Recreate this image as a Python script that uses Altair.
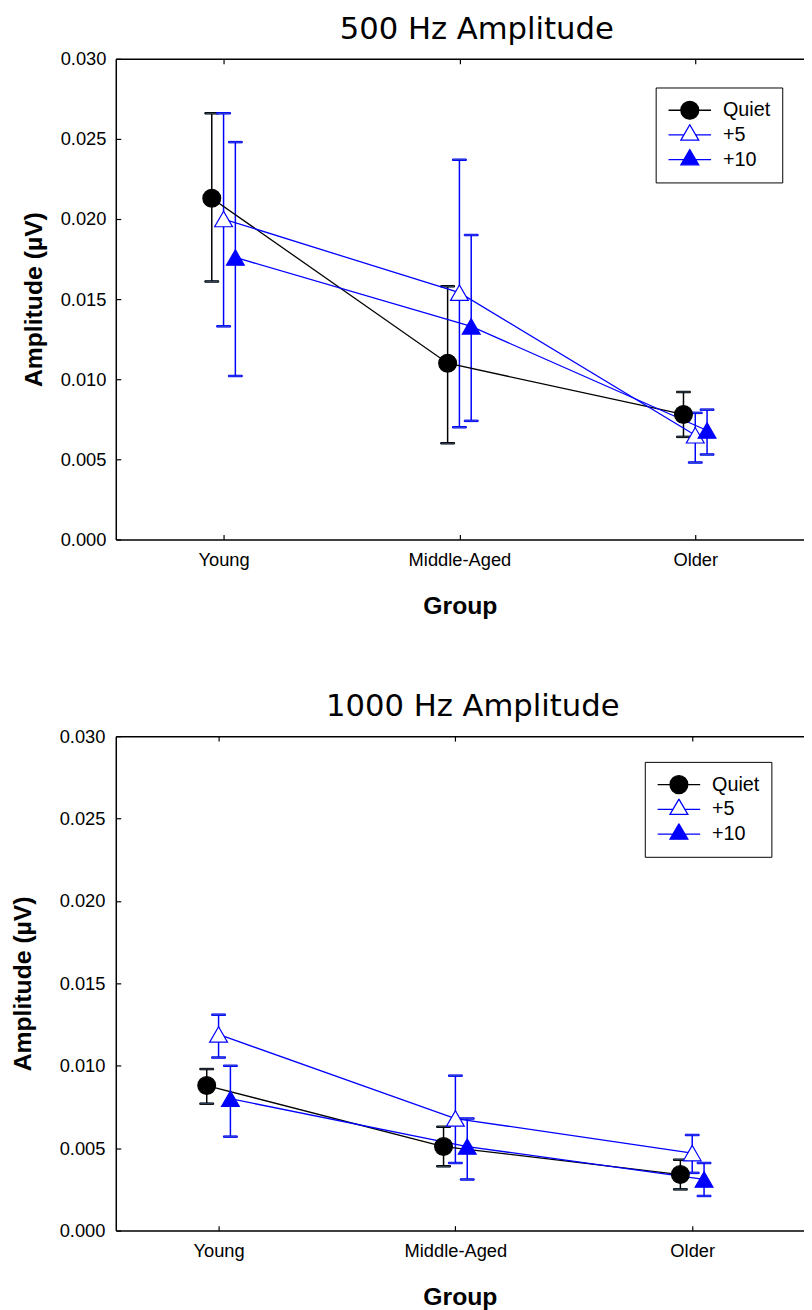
import json
import altair as alt
import pandas as pd

groups = ["Young", "Middle-Aged", "Older"]
series = ["Quiet", "+5", "+10"]
y_ticks = [0.0, 0.005, 0.010, 0.015, 0.020, 0.025, 0.030]

# 500 Hz amplitude (mean, upper and lower error-bar ends)
hz500_quiet = [0.0213, 0.0110, 0.0078]
hz500_quiet_hi = [0.0266, 0.0158, 0.0092]
hz500_quiet_lo = [0.0161, 0.0060, 0.0064]
hz500_p5 = [0.0200, 0.0154, 0.0065]
hz500_p5_hi = [0.0266, 0.0237, 0.0079]
hz500_p5_lo = [0.0133, 0.0070, 0.0048]
hz500_p10 = [0.0176, 0.0133, 0.0068]
hz500_p10_hi = [0.0248, 0.0190, 0.0081]
hz500_p10_lo = [0.0102, 0.0074, 0.0053]

# 1000 Hz amplitude
hz1000_quiet = [0.0088, 0.0051, 0.0034]
hz1000_quiet_hi = [0.0098, 0.0063, 0.0043]
hz1000_quiet_lo = [0.0077, 0.0039, 0.0025]
hz1000_p5 = [0.0119, 0.0068, 0.0047]
hz1000_p5_hi = [0.0131, 0.0094, 0.0058]
hz1000_p5_lo = [0.0105, 0.0041, 0.0035]
hz1000_p10 = [0.0080, 0.0051, 0.0031]
hz1000_p10_hi = [0.0100, 0.0068, 0.0041]
hz1000_p10_lo = [0.0057, 0.0031, 0.0021]

DODGE = {"Quiet": -0.05, "+5": 0.0, "+10": 0.05}
FONT = "Liberation Sans"
TITLE_FONT = "DejaVu Sans"


def make_df(means, his, los):
    rows = []
    for s, m, h, l in zip(series, means, his, los):
        for gi, g in enumerate(groups):
            rows.append({"group": g, "series": s, "pos": gi + 1 + DODGE[s],
                         "mean": m[gi], "hi": h[gi], "lo": l[gi]})
    return pd.DataFrame(rows)


df500 = make_df([hz500_quiet, hz500_p5, hz500_p10],
                [hz500_quiet_hi, hz500_p5_hi, hz500_p10_hi],
                [hz500_quiet_lo, hz500_p5_lo, hz500_p10_lo])
df1000 = make_df([hz1000_quiet, hz1000_p5, hz1000_p10],
                 [hz1000_quiet_hi, hz1000_p5_hi, hz1000_p10_hi],
                 [hz1000_quiet_lo, hz1000_p5_lo, hz1000_p10_lo])

label_expr = json.dumps(groups) + "[round(datum.value) - 1]"
yscale = alt.Scale(domain=[0, 0.03], nice=False, zero=False)
stroke_scale = alt.Scale(domain=series, range=["black", "blue", "blue"])
fill_scale = alt.Scale(domain=series, range=["black", "white", "blue"])
shape_scale = alt.Scale(domain=series, range=["circle", "triangle-up", "triangle-up"])

CIRC = "M-1,0L1,0M-0.42,0A0.42,0.42,0,1,1,0.42,0A0.42,0.42,0,1,1,-0.42,0Z"
TRI = "M-1,0L-0.28,0M0.28,0L1,0M0,-0.48L0.42,0.24L-0.42,0.24Z"
shape_expr = "datum.value === 'Quiet' ? '%s' : '%s'" % (CIRC, TRI)


def panel(df, title, xdom, width, height, title_dx, title_off,
          leg_x, leg_y, ytitle_pad, ylabel_pad):
    xscale = alt.Scale(domain=xdom, nice=False, zero=False)
    x_main = alt.Axis(orient="bottom", values=[1, 2, 3], labelExpr=label_expr,
                      ticks=False, tickSize=0, domain=True, domainColor="black",
                      domainWidth=1.5, grid=False, labelFont=FONT, labelFontSize=18.5,
                      labelColor="black", labelPadding=11, title="Group",
                      titleFont=FONT, titleFontSize=25, titleFontWeight="bold",
                      titleColor="black", titlePadding=25)
    x_bt = alt.Axis(orient="bottom", values=[1, 2, 3], labels=False, domain=False,
                    ticks=True, tickSize=5, tickColor="black", tickWidth=1.2,
                    offset=-5, grid=False, title=None)
    x_top = alt.Axis(orient="top", labels=False, ticks=False, domain=True,
                     domainColor="black", domainWidth=1.5, grid=False, title=None)
    x_tt = alt.Axis(orient="top", values=[1, 2, 3], labels=False, domain=False,
                    ticks=True, tickSize=5, tickColor="black", tickWidth=1.2,
                    offset=-5, grid=False, title=None)
    y_main = alt.Axis(orient="left", values=y_ticks, format=".3f", ticks=False,
                      tickSize=0, domain=True, domainColor="black", domainWidth=1.5,
                      grid=False, labelFont=FONT, labelFontSize=18.5,
                      labelColor="black", labelPadding=ylabel_pad,
                      title="Amplitude (µV)",
                      titleFont=FONT, titleFontSize=25, titleFontWeight="bold",
                      titleColor="black", titlePadding=ytitle_pad)
    y_lt = alt.Axis(orient="left", values=y_ticks, labels=False, domain=False,
                    ticks=True, tickSize=5, tickColor="black", tickWidth=1.2,
                    offset=-5, grid=False, title=None)

    leg = alt.Legend(title=None, orient="none", legendX=leg_x, legendY=leg_y,
                     padding=12, strokeColor="black", fillColor="white",
                     symbolSize=1849, clipHeight=22, rowPadding=3, labelOffset=11,
                     labelFont=FONT, labelFontSize=20, labelColor="black",
                     symbolStrokeWidth=1.3,
                     symbolType={"expr": shape_expr},
                     labelExpr="datum.label + '\u00a0\u00a0\u00a0\u00a0'")

    base = alt.Chart(df)
    stroke_enc = alt.Stroke("series:N", scale=stroke_scale, legend=leg)

    rules = base.mark_rule(strokeWidth=1.5).encode(
        x=alt.X("pos:Q", scale=xscale, axis=x_main),
        y=alt.Y("lo:Q", scale=yscale, axis=y_main),
        y2="hi:Q",
        stroke=stroke_enc)
    lo_caps = base.mark_tick(orient="horizontal", size=14, thickness=1.5, opacity=1).encode(
        x=alt.X("pos:Q", scale=xscale, axis=x_bt),
        y=alt.Y("lo:Q", scale=yscale, axis=y_lt),
        stroke=stroke_enc)
    hi_caps = base.mark_tick(orient="horizontal", size=14, thickness=1.5, opacity=1).encode(
        x=alt.X("pos:Q", scale=xscale, axis=x_top),
        y=alt.Y("hi:Q", scale=yscale, axis=None),
        stroke=stroke_enc)
    lines = base.mark_line(strokeWidth=1.3).encode(
        x=alt.X("pos:Q", scale=xscale, axis=x_tt),
        y=alt.Y("mean:Q", scale=yscale, axis=None),
        stroke=stroke_enc,
        detail="series:N",
        order="pos:Q")
    points = base.mark_point(size=324, opacity=1, strokeWidth=1.2).encode(
        x=alt.X("pos:Q", scale=xscale, axis=None),
        y=alt.Y("mean:Q", scale=yscale, axis=None),
        shape=alt.Shape("series:N", scale=shape_scale, legend=None),
        fill=alt.Fill("series:N", scale=fill_scale, legend=leg),
        stroke=stroke_enc)

    return alt.layer(rules, lo_caps, hi_caps, lines, points).resolve_axis(
        x="independent", y="independent").properties(
        width=width, height=height,
        title=alt.TitleParams(title, font=TITLE_FONT, fontSize=31, fontWeight="normal",
                              color="black", anchor="middle", dx=title_dx,
                              offset=title_off))


top = panel(df500, "500 Hz Amplitude", [0.543, 3.461], 696, 486, 17, 4,
            546, 29, 14, 10)
bottom = panel(df1000, "1000 Hz Amplitude", [0.566, 3.472], 696, 500, 13, 4,
               535, 26, 24, 11)

chart = alt.concat(top, bottom, columns=1, spacing=74).resolve_legend(
    fill="independent", stroke="independent").properties(
    align="none", padding={"left": 2, "right": 0, "top": -1, "bottom": 0}
).configure_view(stroke=None)

chart.save("out.html", embed_options={"renderer": "svg", "actions": False})
